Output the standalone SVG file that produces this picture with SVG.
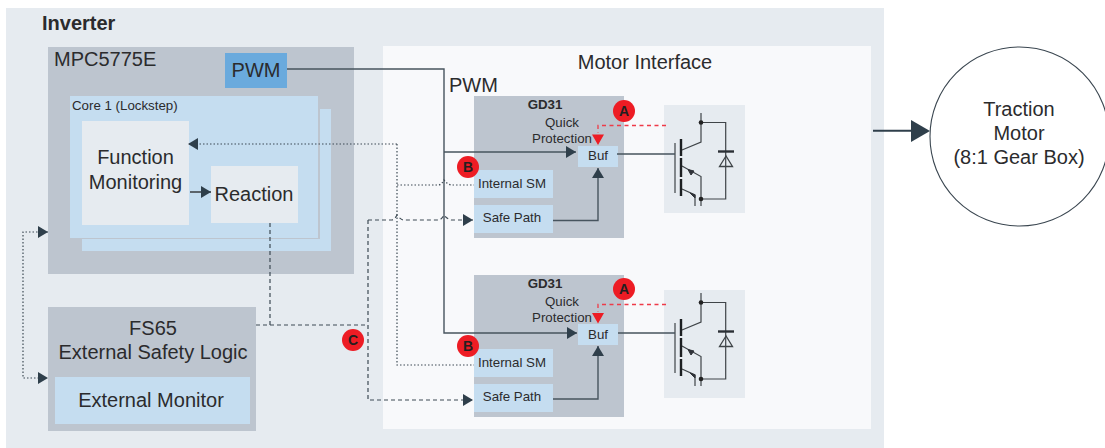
<svg xmlns="http://www.w3.org/2000/svg" xmlns:xlink="http://www.w3.org/1999/xlink" width="1105" height="448" viewBox="0 0 1105 448">
<style>
text{font-family:"Liberation Sans",Arial,sans-serif;fill:#2b2b2d}
.t20{font-size:20px}.t13{font-size:13.3px}.mid{text-anchor:middle}
.g{fill:#bdc5cf}.b{fill:#c5ddf0}.l{fill:#e6ebf0}
.c{fill:none;stroke:#47545e;stroke-width:1.4}
.dot{fill:none;stroke:#3d4a54;stroke-width:1.2;stroke-dasharray:1.5 2}
.dash{fill:none;stroke:#3d4a54;stroke-width:1.2;stroke-dasharray:4 3}
.red{fill:none;stroke:#ee3b48;stroke-width:1.3;stroke-dasharray:4 3.500}
.ig{fill:none;stroke:#3f4448;stroke-width:1.200}
.bad{fill:#ed1c24}
.bl{font-size:14px;font-weight:bold;text-anchor:middle;fill:#231f20}
</style>
<defs>
<marker id="ah" markerUnits="userSpaceOnUse" markerWidth="11" markerHeight="12" refX="10" refY="6" orient="auto"><path d="M0 0L10 6L0 12Z" fill="#2f3f4b"/></marker>
<g id="igbt">
<path class="ig" d="M701 113V142L682 150M701 122.500H725.700V199H701M682 166L701 176.500V206M682 189L695 195V206M675 143V193"/>
<path d="M681 139V156M681 158V177M681 179V196" fill="none" stroke="#1c1f22" stroke-width="2.400"/>
<path d="M718 151.500H734" fill="none" stroke="#2b3035" stroke-width="2.400"/>
<path d="M726 156L719.500 166.500H732.500Z" fill="none" stroke="#3f4448" stroke-width="1.300"/>
<circle cx="701" cy="122.500" r="2.300" fill="#222"/><circle cx="701" cy="199" r="2.300" fill="#222"/>
<path d="M688 169.500L694 171L691 175ZM690 193L695 195V198Z" fill="#2f3238" stroke="#2f3238"/>
</g>
</defs>
<rect id="bg" x="6" y="8" width="878" height="440" class="l"/>
<text x="42" y="29.500" class="t20" style="font-weight:bold">Inverter</text>

<g id="mpc">
<rect x="48" y="47" width="306" height="227" class="g"/>
<text x="54" y="66" class="t20">MPC5775E</text>
<rect x="82" y="109" width="249" height="142" class="b"/>
<rect x="71" y="97" width="249" height="142" fill="#bdc5cf"/>
<rect x="70" y="96" width="248" height="142" class="b"/>
<text x="72" y="110" class="t13">Core 1 (Lockstep)</text>
</g>
<g id="pwm-out"><rect x="225" y="53" width="62" height="35" fill="#6aaadd"/><text x="256" y="77" class="t20 mid">PWM</text></g>
<g id="function-monitoring"><rect x="82" y="121" width="107" height="104" class="l"/><text x="135.500" y="164" class="t20 mid">Function</text><text x="135.500" y="189" class="t20 mid">Monitoring</text></g>
<g id="reaction"><rect x="211" y="166" width="87" height="57" class="l"/><text x="254" y="201" class="t20 mid">Reaction</text></g>
<g id="fs65"><rect x="48" y="307" width="208" height="124" class="g"/><text x="153" y="335" class="t20 mid">FS65</text><text x="153" y="359" class="t20 mid">External Safety Logic</text></g>
<g id="external-monitor"><rect x="55" y="377" width="195" height="47" class="b"/><text x="151" y="407" class="t20 mid">External Monitor</text></g>
<g id="motor-interface"><rect x="383" y="46" width="488" height="383" fill="#f8f9fb"/><text x="645" y="69" class="t20 mid">Motor Interface</text><text x="449" y="92" class="t20">PWM</text></g>

<g id="gd31-top"><rect x="474" y="96" width="150" height="142" class="g"/><text x="545" y="109" class="t13 mid" style="font-weight:bold">GD31</text><text x="562" y="127" class="t13 mid">Quick</text><text x="562" y="143" class="t13 mid">Protection</text></g>
<g id="internal-sm-top"><rect x="474" y="170" width="79" height="28" class="b"/><text x="512" y="188" class="t13 mid">Internal SM</text></g>
<g id="safe-path-top"><rect x="474" y="205" width="79" height="28" class="b"/><text x="512" y="222" class="t13 mid">Safe Path</text></g>
<g id="buf-top"><rect x="578" y="146" width="40" height="21" class="b"/><text x="598" y="160" class="t13 mid">Buf</text></g>
<g id="gd31-bottom"><rect x="474" y="275" width="150" height="142" class="g"/><text x="545" y="288" class="t13 mid" style="font-weight:bold">GD31</text><text x="562" y="306" class="t13 mid">Quick</text><text x="562" y="322" class="t13 mid">Protection</text></g>
<g id="internal-sm-bottom"><rect x="474" y="349" width="79" height="28" class="b"/><text x="512" y="367" class="t13 mid">Internal SM</text></g>
<g id="safe-path-bottom"><rect x="474" y="384" width="79" height="28" class="b"/><text x="512" y="401" class="t13 mid">Safe Path</text></g>
<g id="buf-bottom"><rect x="578" y="324" width="40" height="21" class="b"/><text x="598" y="339" class="t13 mid">Buf</text></g>
<g id="igbt-top"><rect x="664" y="105" width="81" height="108" class="l"/><use xlink:href="#igbt" href="#igbt"/></g>
<g id="igbt-bottom"><rect x="664" y="290" width="81" height="108" class="l"/><use xlink:href="#igbt" href="#igbt" y="180"/></g>
<g id="traction-motor"><circle cx="1019.500" cy="136.500" r="89.500" fill="#fff" stroke="#3a4650" stroke-width="1.100"/><text x="1019" y="116" class="t20 mid">Traction</text><text x="1019" y="140" class="t20 mid">Motor</text><text x="1019" y="164" class="t20 mid">(8:1 Gear Box)</text></g>

<g id="connectors">
<path class="c" d="M287 69H444V333H577" marker-end="url(#ah)"/>
<path class="c" d="M444 152H576" marker-end="url(#ah)"/>
<path class="c" d="M617 154H675M618 333H675"/>
<path class="c" d="M553 220.500H598V168" marker-end="url(#ah)"/>
<path class="c" d="M553 399H598V346" marker-end="url(#ah)"/>
<path d="M190 192H211" fill="none" stroke="#222" stroke-width="1.300" marker-end="url(#ah)"/>
<path d="M873 130.700H915" fill="none" stroke="#2f3f4b" stroke-width="2"/>
<path d="M911 120L930 131L911 142Z" fill="#2f3f4b"/>
<path class="dot" d="M397 144H188" marker-end="url(#ah)"/>
<path class="dot" d="M397 144V365H474"/>
<path class="dot" d="M397 185H439Q442 184 444 180Q447 184 451 185H474"/>
<path class="dash" d="M270 223V325"/>
<path class="dash" d="M256 325H368"/>
<path class="dash" d="M368 220V400H473" marker-end="url(#ah)"/>
<path class="dash" d="M368 220H392Q395 219 397 215Q400 219 403 220H439Q442 219 444 215Q447 219 451 220H473" marker-end="url(#ah)"/>
<path class="dot" d="M48 232H23V378H48"/>
<path d="M38 226L48 232L38 238ZM38 372L48 378L38 384Z" fill="#2f3f4b"/>
<path class="red" d="M666 125.500H598V133"/>
<path class="red" d="M666 304.500H598V312"/>
<path d="M592 134.500H604L598 145ZM592 313H604L598 323.500Z" fill="#ed1c24"/>
</g>

<g id="badge-a-top"><circle cx="624" cy="111" r="11" class="bad"/><text x="624" y="116" class="bl">A</text></g>
<g id="badge-b-top"><circle cx="468" cy="167" r="11" class="bad"/><text x="468" y="172" class="bl">B</text></g>
<g id="badge-a-bottom"><circle cx="624" cy="289" r="11" class="bad"/><text x="624" y="294" class="bl">A</text></g>
<g id="badge-b-bottom"><circle cx="468" cy="346" r="11" class="bad"/><text x="468" y="351" class="bl">B</text></g>
<g id="badge-c"><circle cx="353" cy="340" r="11" class="bad"/><text x="353" y="345" class="bl">C</text></g>
</svg>
